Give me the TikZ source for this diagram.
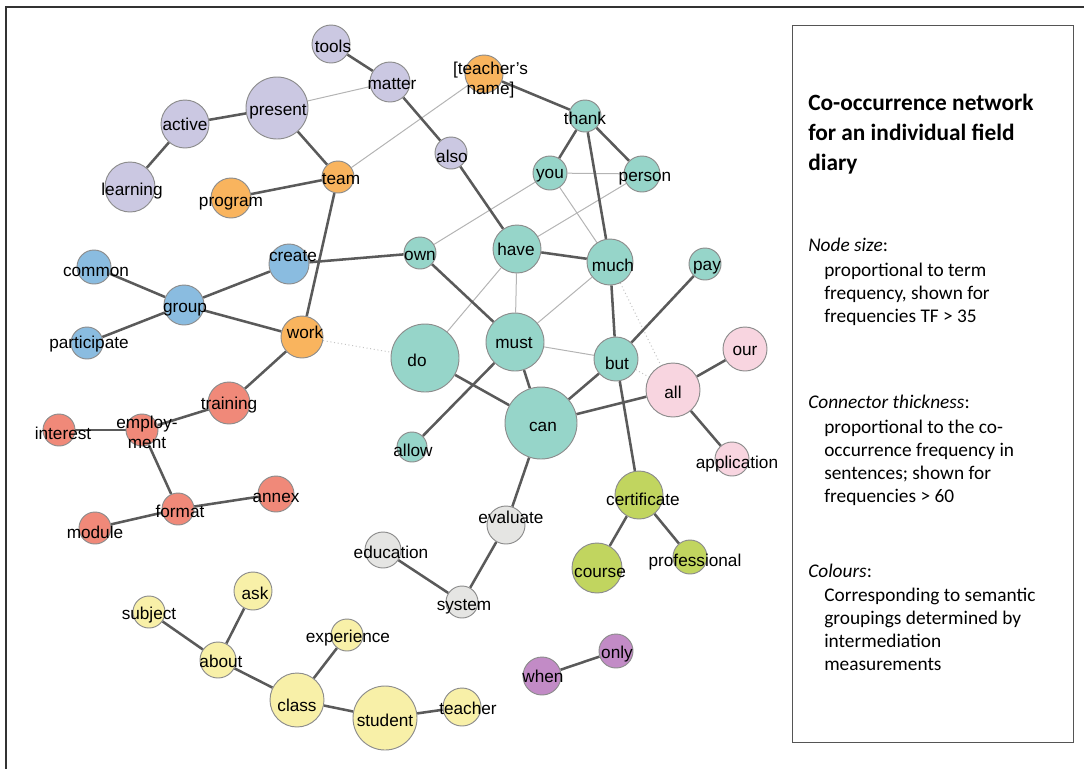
\documentclass[tikz,border=0pt]{standalone}
\usepackage{fontspec}
\setmainfont{Liberation Sans}
\newfontfamily\legfont{Carlito}
\usetikzlibrary{backgrounds}
\definecolor{cLav}{HTML}{CBC8E2}
\definecolor{cOra}{HTML}{F9B45E}
\definecolor{cBlu}{HTML}{8ABCE0}
\definecolor{cSal}{HTML}{F08979}
\definecolor{cTea}{HTML}{96D5C9}
\definecolor{cPin}{HTML}{F8D5E0}
\definecolor{cGre}{HTML}{C1D55F}
\definecolor{cGra}{HTML}{E5E5E3}
\definecolor{cYel}{HTML}{F8F0A8}
\definecolor{cPur}{HTML}{C28BC6}
\definecolor{cBorder}{HTML}{8C8C8C}
\definecolor{cEdge}{HTML}{5A5A5A}
\definecolor{cThin}{HTML}{B4B4B4}
\definecolor{cDot}{HTML}{C4C4C4}
\definecolor{cFrame}{HTML}{333333}
\definecolor{cLeg}{HTML}{555555}
\begin{document}
\begin{tikzpicture}[x=0.75pt,y=-0.75pt,
  wc/.style={circle, draw=cBorder, line width=0.7pt, inner sep=0pt, minimum size=#1*1.5pt},
  lab/.style={font=\fontsize{12.9}{15}\selectfont, inner sep=0pt, anchor=base, text=black},
  thk/.style={draw=cEdge, line width=1.9pt},
  thn/.style={draw=cThin, line width=0.75pt},
  dotedge/.style={draw=cDot, line width=0.75pt, dotted},
  frame/.style={draw=cFrame, line width=1.5pt},
  legtitle/.style={font=\legfont\bfseries\fontsize{17.5}{22}\selectfont, inner sep=0pt, anchor=base west},
  legtext/.style={font=\legfont\fontsize{14.5}{17}\selectfont, inner sep=0pt, anchor=base west}]
\useasboundingbox (0,0) rectangle (1084,769);
\draw[frame] (1084,7) -- (6,7) -- (6,769);

% ---- word circles
\node[wc=19,fill=cLav] (tools) at (331,44) {};
\node[wc=20,fill=cLav] (matter) at (390,82) {};
\node[wc=31,fill=cLav] (present) at (277,108) {};
\node[wc=24,fill=cLav] (active) at (185,124) {};
\node[wc=25,fill=cLav] (learning) at (130,187) {};
\node[wc=16,fill=cLav] (also) at (451,153) {};
\node[wc=16,fill=cOra] (team) at (338,177) {};
\node[wc=20,fill=cOra] (program) at (231,198) {};
\node[wc=19,fill=cOra] (tname) at (484,74) {};
\node[wc=21,fill=cOra] (work) at (302,337) {};
\node[wc=20,fill=cBlu] (create) at (289,264) {};
\node[wc=17,fill=cBlu] (common) at (94,267) {};
\node[wc=20,fill=cBlu] (group) at (184,305) {};
\node[wc=16,fill=cBlu] (participate) at (87,343) {};
\node[wc=21,fill=cSal] (training) at (229,403) {};
\node[wc=16,fill=cSal] (employment) at (142,430) {};
\node[wc=16,fill=cSal] (interest) at (59,430) {};
\node[wc=16,fill=cSal] (format) at (178,509) {};
\node[wc=18,fill=cSal] (annex) at (276,494) {};
\node[wc=16,fill=cSal] (module) at (95,528) {};
\node[wc=16,fill=cTea] (thank) at (585,116) {};
\node[wc=17,fill=cTea] (you) at (550,173) {};
\node[wc=18,fill=cTea] (person) at (642,174) {};
\node[wc=16,fill=cTea] (own) at (420,253) {};
\node[wc=24,fill=cTea] (have) at (517,249) {};
\node[wc=23,fill=cTea] (much) at (610,262) {};
\node[wc=16,fill=cTea] (pay) at (705,264) {};
\node[wc=34,fill=cTea] (do) at (425,358) {};
\node[wc=29,fill=cTea] (must) at (515,342) {};
\node[wc=22,fill=cTea] (but) at (616,359) {};
\node[wc=36,fill=cTea] (can) at (541,423) {};
\node[wc=15,fill=cTea] (allow) at (412,447) {};
\node[wc=22,fill=cPin] (our) at (745,349) {};
\node[wc=27,fill=cPin] (all) at (673,390) {};
\node[wc=17,fill=cPin] (application) at (732,459) {};
\node[wc=24,fill=cGre] (certificate) at (639,495) {};
\node[wc=25,fill=cGre] (course) at (597,568) {};
\node[wc=17,fill=cGre] (professional) at (690,557) {};
\node[wc=19,fill=cGra] (evaluate) at (506,525) {};
\node[wc=18,fill=cGra] (education) at (383,550) {};
\node[wc=16,fill=cGra] (system) at (462,602) {};
\node[wc=19,fill=cYel] (ask) at (253,591) {};
\node[wc=16,fill=cYel] (subject) at (149,612) {};
\node[wc=18,fill=cYel] (about) at (218,660) {};
\node[wc=16,fill=cYel] (experience) at (347,635) {};
\node[wc=27,fill=cYel] (class) at (297,700) {};
\node[wc=32,fill=cYel] (student) at (385,718) {};
\node[wc=19,fill=cYel] (teacher) at (462,707) {};
\node[wc=19,fill=cPur] (when) at (542,676) {};
\node[wc=17,fill=cPur] (only) at (616,651) {};

% ---- connectors
\begin{pgfonlayer}{background}
\draw[thn] (present) -- (matter);
\draw[thn] (team) -- (tname);
\draw[thn] (you) -- (person);
\draw[thn] (you) -- (own);
\draw[thn] (you) -- (much);
\draw[thn] (person) -- (have);
\draw[thn] (have) -- (must);
\draw[thn] (have) -- (do);
\draw[thn] (much) -- (must);
\draw[thn] (must) -- (but);
\draw[dotedge] (work) -- (do);
\draw[dotedge] (much) -- (all);
\draw[dotedge] (but) -- (all);
\draw[thk] (tools) -- (matter);
\draw[thk] (active) -- (present);
\draw[thk] (active) -- (learning);
\draw[thk] (present) -- (team);
\draw[thk] (program) -- (team);
\draw[thk] (team) -- (work);
\draw[thk] (matter) -- (also);
\draw[thk] (also) -- (have);
\draw[thk] (tname) -- (thank);
\draw[thk] (thank) -- (you);
\draw[thk] (thank) -- (person);
\draw[thk] (thank) -- (much);
\draw[thk] (create) -- (own);
\draw[thk] (common) -- (group);
\draw[thk] (participate) -- (group);
\draw[thk] (group) -- (create);
\draw[thk] (group) -- (work);
\draw[thk] (work) -- (training);
\draw[thk] (training) -- (employment);
\draw[thk] (employment) -- (interest);
\draw[thk] (employment) -- (format);
\draw[thk] (format) -- (module);
\draw[thk] (format) -- (annex);
\draw[thk] (own) -- (must);
\draw[thk] (have) -- (much);
\draw[thk] (much) -- (but);
\draw[thk] (pay) -- (but);
\draw[thk] (must) -- (can);
\draw[thk] (do) -- (can);
\draw[thk] (allow) -- (must);
\draw[thk] (but) -- (can);
\draw[thk] (but) -- (certificate);
\draw[thk] (can) -- (all);
\draw[thk] (all) -- (our);
\draw[thk] (all) -- (application);
\draw[thk] (can) -- (evaluate);
\draw[thk] (evaluate) -- (system);
\draw[thk] (education) -- (system);
\draw[thk] (certificate) -- (course);
\draw[thk] (certificate) -- (professional);
\draw[thk] (subject) -- (about);
\draw[thk] (ask) -- (about);
\draw[thk] (about) -- (class);
\draw[thk] (experience) -- (class);
\draw[thk] (class) -- (student);
\draw[thk] (student) -- (teacher);
\draw[thk] (when) -- (only);
\end{pgfonlayer}

% ---- word labels
\node[lab] (t-tools) at (333,52) {tools};
\node[lab] (t-matter) at (392,89) {matter};
\node[lab] (t-present) at (278,115) {present};
\node[lab] (t-active) at (185,130) {active};
\node[lab] (t-learning) at (132,195) {learning};
\node[lab] (t-also) at (452,162) {also};
\node[lab] (t-team) at (341,184) {team};
\node[lab] (t-program) at (231,206) {program};
\node[lab, align=center, anchor=center, font=\fontsize{12.9}{15}\selectfont] (t-tname) at (490.5,80) {[teacher’s\\name]};
\node[lab] (t-work) at (305,338) {work};
\node[lab] (t-create) at (293,261) {create};
\node[lab] (t-common) at (96,276) {common};
\node[lab] (t-group) at (185,312) {group};
\node[lab] (t-participate) at (89,348) {participate};
\node[lab] (t-training) at (229,409) {training};
\node[lab] (t-employ) at (147,428) {employ-};
\node[lab] (t-ment) at (147,448) {ment};
\node[lab] (t-interest) at (63,439) {interest};
\node[lab] (t-format) at (180,517) {format};
\node[lab] (t-annex) at (276,502) {annex};
\node[lab] (t-module) at (95,538) {module};
\node[lab] (t-thank) at (585,124) {thank};
\node[lab] (t-you) at (550,178) {you};
\node[lab] (t-person) at (645,181) {person};
\node[lab] (t-own) at (420,260) {own};
\node[lab] (t-have) at (516,255) {have};
\node[lab] (t-much) at (613,271) {much};
\node[lab] (t-pay) at (707,270) {pay};
\node[lab] (t-do) at (417,366) {do};
\node[lab] (t-must) at (514,348) {must};
\node[lab] (t-but) at (617,369) {but};
\node[lab] (t-can) at (543,431) {can};
\node[lab] (t-allow) at (413,456) {allow};
\node[lab] (t-our) at (745,355) {our};
\node[lab] (t-all) at (673,398) {all};
\node[lab] (t-application) at (737,468) {application};
\node[lab] (t-certificate) at (643,505) {certificate};
\node[lab] (t-course) at (600,577) {course};
\node[lab] (t-professional) at (695,566) {professional};
\node[lab] (t-evaluate) at (511,523) {evaluate};
\node[lab] (t-education) at (391,558) {education};
\node[lab] (t-system) at (464,610) {system};
\node[lab] (t-ask) at (255,599) {ask};
\node[lab] (t-subject) at (149,619) {subject};
\node[lab] (t-about) at (221,667) {about};
\node[lab] (t-experience) at (348,642) {experience};
\node[lab] (t-class) at (297,711) {class};
\node[lab] (t-student) at (385,726) {student};
\node[lab] (t-teacher) at (468,714) {teacher};
\node[lab] (t-when) at (543,682) {when};
\node[lab] (t-only) at (617,658) {only};

% ---- legend
\node[draw=cLeg, line width=1pt, inner sep=0pt, anchor=north west,
      minimum width=281*0.75pt, minimum height=717*0.75pt] (legend) at (792,25) {};
\node[legtitle] (lt1) at (808,110) {Co-occurrence network};
\node[legtitle] (lt2) at (808,140) {for an individual field};
\node[legtitle] (lt3) at (808,170) {diary};
\node[legtext] (ln0) at (808,251) {\textit{Node size}:};
\node[legtext] (ln1) at (824,276) {proportional to term};
\node[legtext] (ln2) at (824,299) {frequency, shown for};
\node[legtext] (ln3) at (824,322) {frequencies TF > 35};
\node[legtext] (lc0) at (808,408) {\textit{Connector thickness}:};
\node[legtext] (lc1) at (824,433) {proportional to the co-};
\node[legtext] (lc2) at (824,456) {occurrence frequency in};
\node[legtext] (lc3) at (824,479) {sentences; shown for};
\node[legtext] (lc4) at (824,502) {frequencies > 60};
\node[legtext] (lk0) at (808,577) {\textit{Colours}:};
\node[legtext] (lk1) at (824,601) {Corresponding to semantic};
\node[legtext] (lk2) at (824,624) {groupings determined by};
\node[legtext] (lk3) at (824,647) {intermediation};
\node[legtext] (lk4) at (824,670) {measurements};
\end{tikzpicture}
\end{document}
